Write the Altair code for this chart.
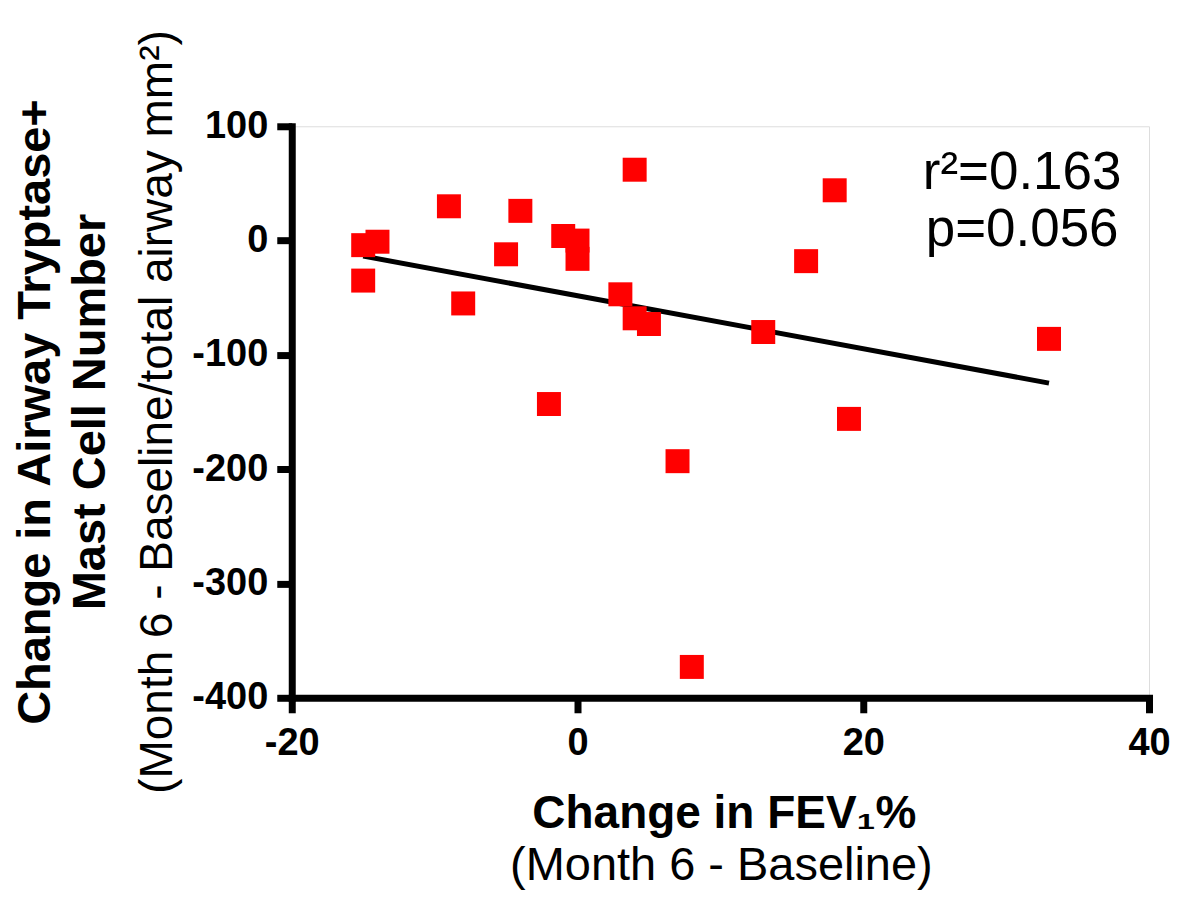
import altair as alt
import pandas as pd

# Data
fev1_change = [-15, -14, -15, -9, -4, -8, -5, -1, 0, 0, -2, 4, 3, 4, 5, 7, 8, 13, 16, 18, 19, 33]
mast_change = [-4, -1, -35, 30, 26, -55, -12, 4, 0, -16, -143, 62, -47, -68, -73, -193, -373, -80, -18, 44, -156, -86]
x_ticks = [-20, 0, 20, 40]
y_ticks = [100, 0, -100, -200, -300, -400]

y_title_1 = "Change in Airway Tryptase+"
y_title_2 = "Mast Cell Number"
y_title_3 = "(Month 6 - Baseline/total airway mm\u00b2)"
x_title_1 = "Change in FEV\u2081%"
x_title_2 = "(Month 6 - Baseline)"
stat_1 = "r\u00b2=0.163"
stat_2 = "p=0.056"

FONT = "Liberation Sans"

df = pd.DataFrame({"x": fev1_change, "y": mast_change})

W, H = 858, 572

xscale = alt.Scale(domain=[-20, 40], nice=False, zero=False)
yscale = alt.Scale(domain=[-400, 100], nice=False, zero=False)

hyphen_expr = "datum.value < 0 ? '-' + abs(datum.value) : '' + datum.value"

xaxis = alt.Axis(values=x_ticks, title=None, grid=False, domainColor="black",
                 domainWidth=7, domainCap="square", tickColor="black", tickWidth=7,
                 tickSize=15, labelFont=FONT, labelFontSize=38, labelFontWeight="bold",
                 labelColor="black", labelPadding=12, labelFlush=False, labelOverlap=False,
                 labelExpr=hyphen_expr)
yaxis = alt.Axis(values=y_ticks, title=None, grid=False, domainColor="black",
                 domainWidth=7, domainCap="square", tickColor="black", tickWidth=7,
                 tickSize=15, labelFont=FONT, labelFontSize=38, labelFontWeight="bold",
                 labelColor="black", labelPadding=9, labelFlush=False, labelOverlap=False,
                 labelExpr=hyphen_expr)

base = alt.Chart(df)

fit = base.transform_regression("x", "y").mark_line(color="black", strokeWidth=5).encode(
    x=alt.X("x:Q", scale=xscale, axis=xaxis),
    y=alt.Y("y:Q", scale=yscale, axis=yaxis),
)

pts = base.mark_point(shape="square", filled=True, size=576, color="#ff0000", opacity=1).encode(
    x=alt.X("x:Q", scale=xscale),
    y=alt.Y("y:Q", scale=yscale),
)

one = pd.DataFrame({"k": [0]})


def label(text, x, y, size, weight="normal", angle=0, align="center"):
    kw = dict(font=FONT, fontSize=size, fontWeight=weight, color="black",
              align=align, baseline="alphabetic")
    if angle:
        kw["angle"] = angle
    return alt.Chart(one).mark_text(**kw).encode(
        x=alt.value(x), y=alt.value(y), text=alt.value(text)
    )


texts = [
    label(y_title_1, -242, H / 2, 47, "bold", 270),
    label(y_title_2, -187, H / 2, 47, "bold", 270),
    label(y_title_3, -120, H / 2, 46, "normal", 270),
    label(x_title_1, 433, 702, 46, "bold"),
    label(x_title_2, 430, 754, 47, "normal"),
    label(stat_1, 731, 63, 53, "normal"),
    label(stat_2, 731, 120, 53, "normal"),
]

chart = alt.layer(fit, pts, *texts).properties(
    width=W, height=H,
    autosize=alt.AutoSizeParams(type="none"),
    padding={"left": 284, "top": 118, "right": 21, "bottom": 192},
).configure_view(strokeWidth=0).configure(background="white")

chart.save("out.html", embed_options={"renderer": "svg", "actions": False})
